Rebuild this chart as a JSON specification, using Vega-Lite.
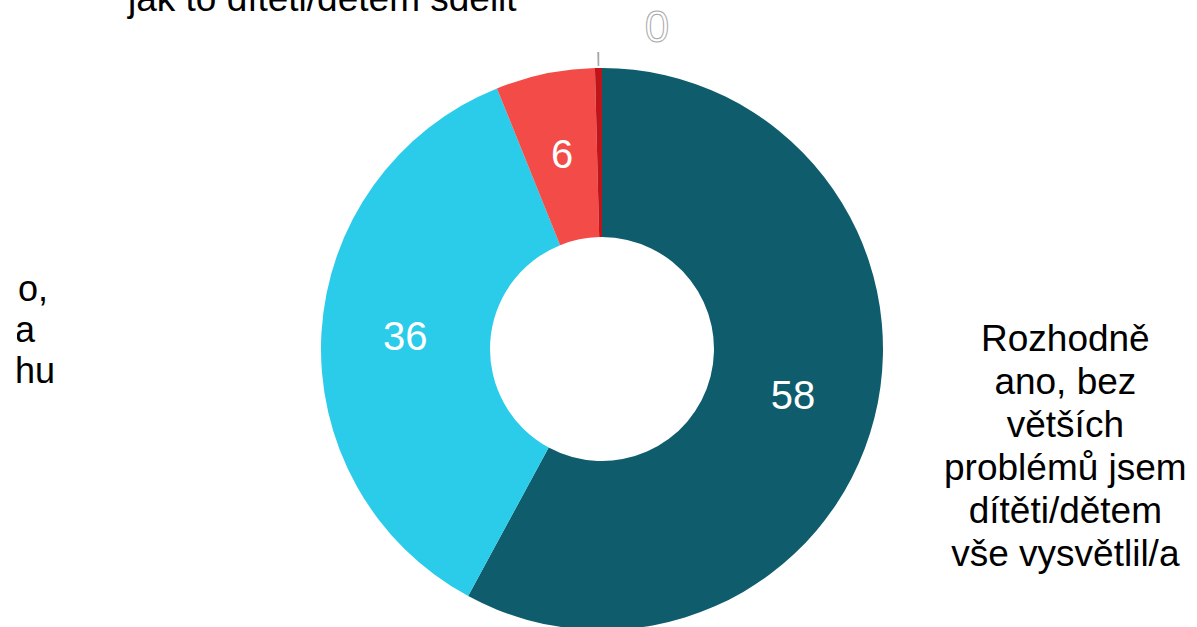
{
  "$schema": "https://vega.github.io/schema/vega-lite/v6.json",
  "width": 1170,
  "height": 556,
  "autosize": {"type": "none"},
  "padding": {"left": 17, "top": 71, "right": 10, "bottom": 0},
  "background": "white",
  "config": {"view": {"stroke": null}, "text": {"font": "Liberation Sans"}},
  "data": {
    "values": [
      {"i": 1, "kat": "Rozhodně\nano, bez\nvětších\nproblémů jsem\ndítěti/dětem\nvše vysvětlil/a", "value": 57.9},
      {"i": 2, "kat": "Spíše ano,\nale měl/a\njsem trochu", "value": 36.0},
      {"i": 3, "kat": "Spíše ne, měl/a jsem problém,\njak to dítěti/dětem sdělit", "value": 5.7},
      {"i": 4, "kat": "Rozhodně ne, vůbec jsem nevěděl/a,\njak to dítěti/dětem sdělit", "value": 0.4}
    ]
  },
  "encoding": {
    "theta": {"field": "value", "type": "quantitative", "stack": true},
    "order": {"field": "i", "type": "quantitative"}
  },
  "layer": [
    {
      "mark": {"type": "arc", "outerRadius": 281, "innerRadius": 112},
      "encoding": {
        "color": {
          "field": "i",
          "type": "nominal",
          "scale": {"domain": [1, 2, 3, 4], "range": ["#0F5D6C", "#2BCBEA", "#F34B47", "#BF1419"]},
          "legend": null
        }
      }
    },
    {
      "mark": {"type": "arc", "outerRadius": 297, "innerRadius": 283, "padAngle": 0.0134},
      "encoding": {
        "color": {"condition": {"test": "datum.i === 4", "value": "#a6a6a6"}, "value": "rgba(0,0,0,0)"}
      }
    },
    {
      "mark": {"type": "text", "radius": 197, "fontSize": 40, "fill": "white", "align": "center", "baseline": "middle"},
      "encoding": {
        "text": {"condition": {"test": "datum.i < 4", "field": "value", "type": "quantitative", "format": ".0f"}, "value": ""}
      }
    },
    {
      "mark": {"type": "text", "radius": 322, "dx": 59, "dy": 2, "fontSize": 44, "fill": "white", "stroke": "#a8a8a8", "strokeWidth": 1, "align": "center", "baseline": "middle"},
      "encoding": {
        "text": {"condition": {"test": "datum.i === 4", "field": "value", "type": "quantitative", "format": ".0f"}, "value": ""}
      }
    },
    {
      "mark": {"type": "text", "radius": 478, "dy": -126, "fontSize": 37, "lineHeight": 43, "lineBreak": "\n", "fill": "black", "align": "center", "baseline": "middle"},
      "encoding": {
        "text": {"condition": {"test": "datum.i === 1", "field": "kat", "type": "nominal"}, "value": ""}
      }
    },
    {
      "mark": {"type": "text", "radius": 639, "dx": -2, "dy": -23, "fontSize": 36, "lineHeight": 41, "lineBreak": "\n", "fill": "black", "align": "center", "baseline": "middle", "clip": true},
      "encoding": {
        "text": {"condition": {"test": "datum.i === 2", "field": "kat", "type": "nominal"}, "value": ""}
      }
    },
    {
      "mark": {"type": "text", "radius": 339, "dx": -211, "dy": -41, "fontSize": 37, "lineHeight": 43, "lineBreak": "\n", "fill": "black", "align": "center", "baseline": "bottom"},
      "encoding": {
        "text": {"condition": {"test": "datum.i === 3", "field": "kat", "type": "nominal"}, "value": ""}
      }
    }
  ]
}
